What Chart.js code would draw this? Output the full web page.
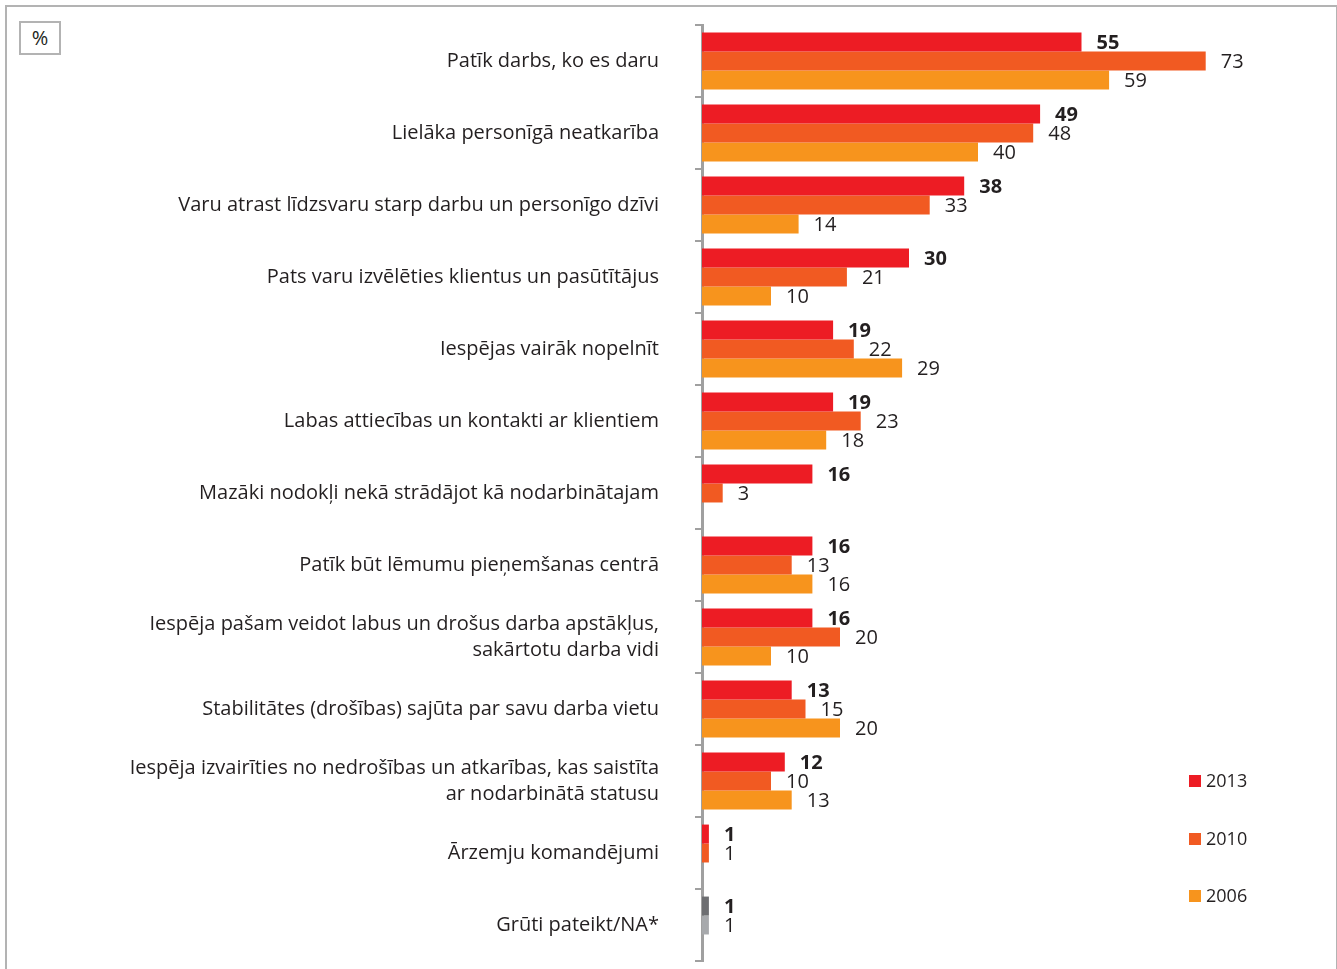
<!DOCTYPE html>
<html>
<head>
<meta charset="utf-8">
<title>Darba priekšrocības</title>
<script src="https://cdn.jsdelivr.net/npm/chart.js@4"></script>
<style>
  html, body { margin: 0; padding: 0; background: #fff; }
  body { width: 1337px; height: 969px; position: relative; overflow: hidden; font-family: 'Open Sans', sans-serif; }
  .frame { position: absolute; left: 5px; top: 5px; width: 1329px; height: 1000px; border: 2px solid #b3b3b3; }
  .unit { position: absolute; left: 19px; top: 21px; width: 38px; height: 30px; border: 2px solid #b3b3b3;
          font-size: 20px; line-height: 30px; text-align: center; color: #231f20; }
  #wrap { position: absolute; left: 0; top: 0; width: 1337px; height: 969px; }
</style>
</head>
<body>
<div class="frame"></div>
<div class="unit">%</div>
<div id="wrap"><canvas id="chart"></canvas></div>

<script>
/* =============================================
   DATA
   ============================================= */
const categories = [
  'Patīk darbs, ko es daru',
  'Lielāka personīgā neatkarība',
  'Varu atrast līdzsvaru starp darbu un personīgo dzīvi',
  'Pats varu izvēlēties klientus un pasūtītājus',
  'Iespējas vairāk nopelnīt',
  'Labas attiecības un kontakti ar klientiem',
  'Mazāki nodokļi nekā strādājot kā nodarbinātajam',
  'Patīk būt lēmumu pieņemšanas centrā',
  ['Iespēja pašam veidot labus un drošus darba apstākļus,', 'sakārtotu darba vidi'],
  'Stabilitātes (drošības) sajūta par savu darba vietu',
  ['Iespēja izvairīties no nedrošības un atkarības, kas saistīta', 'ar nodarbinātā statusu'],
  'Ārzemju komandējumi',
  'Grūti pateikt/NA*'
];
const seriesLabels = ['2013', '2010', '2006'];
const values2013 = [55, 49, 38, 30, 19, 19, 16, 16, 16, 13, 12, 1, 1];
const values2010 = [73, 48, 33, 21, 22, 23, 3, 13, 20, 15, 10, 1, 1];
const values2006 = [59, 40, 14, 10, 29, 18, null, 16, 10, 20, 13, null, null];

const FONT = "'Open Sans', sans-serif";
const TEXT = '#231f20';
const COLORS = ['#ed1c24', '#f15a22', '#f7941d'];
// the "hard to say" row is shown in greys
const NA_COLORS = ['#6d6e71', '#a7a9ac', '#d1d3d4'];

function colorsFor(i, n) {
  return Array.from({ length: n }, (_, k) => (k === n - 1 ? NA_COLORS[i] : COLORS[i]));
}

/* =============================================
   PLUGINS
   ============================================= */
// value labels right of each bar, 2013 in bold
const valueLabels = {
  id: 'valueLabels',
  afterDatasetsDraw(chart) {
    const ctx = chart.ctx;
    ctx.save();
    ctx.fillStyle = TEXT;
    ctx.textAlign = 'left';
    ctx.textBaseline = 'middle';
    chart.data.datasets.forEach((ds, di) => {
      ctx.font = (di === 0 ? 'bold ' : '') + '20px ' + FONT;
      chart.getDatasetMeta(di).data.forEach((bar, i) => {
        const v = ds.data[i];
        if (v === null || v === undefined) return;
        ctx.fillText(String(v), bar.x + 15, bar.y + 1);
      });
    });
    ctx.restore();
  }
};

// legend in the lower right corner
const cornerLegend = {
  id: 'cornerLegend',
  afterDraw(chart) {
    const ctx = chart.ctx;
    const ys = [781, 839, 896];
    ctx.save();
    ctx.font = '18px ' + FONT;
    ctx.textBaseline = 'middle';
    ctx.textAlign = 'left';
    chart.data.datasets.forEach((ds, i) => {
      ctx.fillStyle = COLORS[i];
      ctx.fillRect(1189, ys[i] - 6, 12, 12);
      ctx.fillStyle = TEXT;
      ctx.fillText(ds.label, 1206, ys[i] + 1);
    });
    ctx.restore();
  }
};

/* =============================================
   CHART
   ============================================= */
const n = categories.length;
const datasets = [values2013, values2010, values2006].map((data, i) => ({
  label: seriesLabels[i],
  data,
  backgroundColor: colorsFor(i, n),
  borderWidth: 0,
  barPercentage: 1,
  categoryPercentage: 0.79
}));

new Chart(document.getElementById('chart'), {
  type: 'bar',
  data: { labels: categories, datasets },
  options: {
    indexAxis: 'y',
    responsive: true,
    maintainAspectRatio: false,
    animation: false,
    layout: { autoPadding: false, padding: { left: 0, top: 25, right: 14, bottom: 8 } },
    plugins: {
      legend: { display: false },
      tooltip: { enabled: false }
    },
    scales: {
      x: { display: false, min: 0, max: 90 },
      y: {
        offset: true,
        afterFit: s => { s.width = 702; s.paddingTop = 0; s.paddingBottom = 0; },
        border: { display: true, color: '#a0a0a0', width: 3 },
        grid: { drawOnChartArea: false, drawTicks: true, tickLength: 7, color: '#a0a0a0', lineWidth: 2 },
        ticks: {
          color: TEXT,
          padding: 36,
          font: { family: FONT, size: 20, lineHeight: 1.3 }
        }
      }
    }
  },
  plugins: [valueLabels, cornerLegend]
});
</script>
</body>
</html>
